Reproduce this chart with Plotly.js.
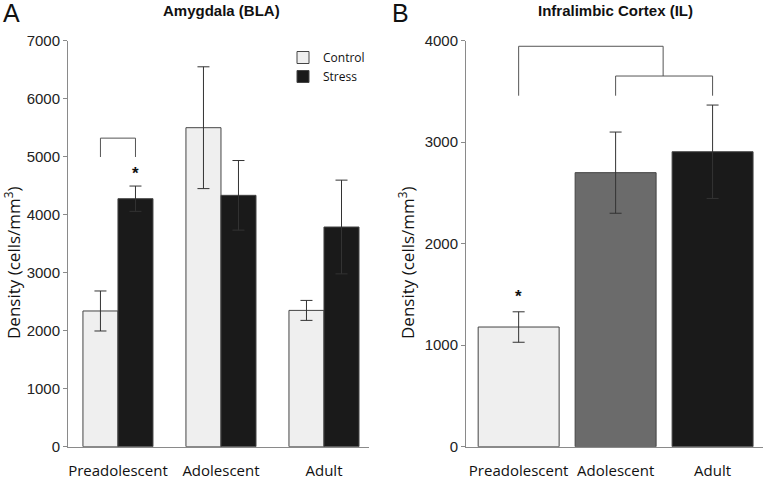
<!DOCTYPE html>
<html>
<head>
<meta charset="utf-8">
<script src="https://cdn.plot.ly/plotly-3.0.1.min.js"></script>
<style>
  html, body { margin: 0; padding: 0; background: #fff; }
  #chart { width: 766px; height: 479px; }
</style>
</head>
<body>
<div id="chart"></div>
<script>
// Panel A: Amygdala (BLA)
const agesA = ['Preadolescent', 'Adolescent', 'Adult'];
const controlA = [2340, 5500, 2350];
const controlErrA = [345, 1050, 172];
const stressA = [4276, 4334, 3788];
const stressErrA = [218, 600, 808];

// Panel B: Infralimbic Cortex (IL)
const agesB = ['Preadolescent', 'Adolescent', 'Adult'];
const densityB = [1179, 2700, 2906];
const densityErrB = [150, 400, 460];
const colorsB = ['#efefef', '#6b6b6b', '#1a1a1a'];

const tickFont = { family: 'Liberation Sans, Arial, sans-serif', size: 15, color: '#222' };
const catFont = { family: 'Open Sans, sans-serif', size: 15, color: '#111' };
const axisCol = '#8a8a8a';

const errStyle = arr => ({ type: 'data', array: arr, visible: true, color: '#333', thickness: 1, width: 6 });

const traces = [
    {
        x: agesA, y: controlA, type: 'bar', name: 'Control',
        marker: { color: '#efefef', line: { color: '#444', width: 1 } },
        error_y: errStyle(controlErrA),
        xaxis: 'x', yaxis: 'y'
    },
    {
        x: agesA, y: stressA, type: 'bar', name: 'Stress',
        marker: { color: '#1a1a1a', line: { color: '#444', width: 1 } },
        error_y: errStyle(stressErrA),
        xaxis: 'x', yaxis: 'y'
    },
    {
        x: agesB, y: densityB, type: 'bar', name: 'IL', showlegend: false,
        width: 0.835,
        marker: { color: colorsB, line: { color: '#444', width: 1 } },
        error_y: errStyle(densityErrB),
        xaxis: 'x2', yaxis: 'y2'
    }
];

const yDom = [32.3 / 479, 438.3 / 479];

function bracket(xr, yr, pts) {
    // pts: list of [x0, y0, x1, y1] line segments
    return pts.map(p => ({
        type: 'line', xref: xr, yref: yr,
        x0: p[0], y0: p[1], x1: p[2], y1: p[3],
        line: { color: '#555', width: 1 }
    }));
}

const shapes = [
    ...bracket('x', 'y', [
        [-0.17, 4995, -0.17, 5320],
        [-0.17, 5320, 0.17, 5320],
        [0.17, 5320, 0.17, 4995]
    ]),
    ...bracket('x2', 'y2', [
        [0, 3458, 0, 3945],
        [0, 3945, 1.49, 3945],
        [1.49, 3945, 1.49, 3652],
        [1, 3458, 1, 3652],
        [1, 3652, 2, 3652],
        [2, 3652, 2, 3458]
    ])
];

const yTitle = 'Density (cells/mm<sup>3</sup>)';
const sans = 'Liberation Sans, Arial, sans-serif';

const annotations = [
    { text: 'A', xref: 'paper', yref: 'paper', x: 1 / 766, y: 1 - 13 / 479, xanchor: 'left', yanchor: 'middle',
      showarrow: false, font: { family: sans, size: 25, color: '#111' } },
    { text: 'B', xref: 'paper', yref: 'paper', x: 390 / 766, y: 1 - 13 / 479, xanchor: 'left', yanchor: 'middle',
      showarrow: false, font: { family: sans, size: 25, color: '#111' } },
    { text: '<b>Amygdala (BLA)</b>', xref: 'paper', yref: 'paper', x: 221 / 766, y: 1 - 10 / 479,
      xanchor: 'center', yanchor: 'middle', showarrow: false,
      font: { family: sans, size: 15, color: '#111' } },
    { text: '<b>Infralimbic Cortex (IL)</b>', xref: 'paper', yref: 'paper', x: 615 / 766, y: 1 - 10 / 479,
      xanchor: 'center', yanchor: 'middle', showarrow: false,
      font: { family: sans, size: 15, color: '#111' } },
    { text: yTitle, xref: 'paper', yref: 'paper', x: 12 / 766, y: 1 - 263 / 479, textangle: -90,
      xanchor: 'center', yanchor: 'middle', showarrow: false,
      font: { family: 'Open Sans, sans-serif', size: 17, color: '#111' } },
    { text: yTitle, xref: 'paper', yref: 'paper', x: 406 / 766, y: 1 - 263 / 479, textangle: -90,
      xanchor: 'center', yanchor: 'middle', showarrow: false,
      font: { family: 'Open Sans, sans-serif', size: 17, color: '#111' } },
    { text: '<b>*</b>', xref: 'x', yref: 'y', x: 0.17, y: 4716, showarrow: false,
      font: { family: sans, size: 17, color: '#111' } },
    { text: '<b>*</b>', xref: 'x2', yref: 'y2', x: 0, y: 1478, showarrow: false,
      font: { family: sans, size: 17, color: '#111' } }
];

const xAxisBase = {
    type: 'category', showline: true, linecolor: axisCol, linewidth: 1,
    ticks: 'outside', ticklen: 10, tickcolor: 'rgba(0,0,0,0)',
    tickfont: catFont, showgrid: false, zeroline: false, fixedrange: true
};
const yAxisBase = {
    showline: true, linecolor: axisCol, linewidth: 1,
    ticks: 'outside', ticklen: 4, tickcolor: axisCol,
    tickfont: tickFont, showgrid: false, zeroline: false, fixedrange: true
};

const layout = {
    width: 766, height: 479,
    margin: { l: 0, r: 0, t: 0, b: 0 },
    paper_bgcolor: '#fff', plot_bgcolor: '#fff',
    barmode: 'group', bargap: 0.32, bargroupgap: 0,
    showlegend: true,
    legend: {
        x: 283 / 766, y: 1 - 43 / 479, xanchor: 'left', yanchor: 'top',
        bgcolor: 'rgba(0,0,0,0)', font: { family: 'Open Sans, sans-serif', size: 12, color: '#111' },
        tracegroupgap: 0
    },
    xaxis: { ...xAxisBase, domain: [68 / 766, 369 / 766], range: [-0.485, 2.437], anchor: 'y' },
    yaxis: { ...yAxisBase, domain: yDom, range: [0, 7000], dtick: 1000, anchor: 'x' },
    xaxis2: { ...xAxisBase, domain: [466 / 766, 763 / 766], range: [-0.543, 2.52], anchor: 'y2' },
    yaxis2: { ...yAxisBase, domain: yDom, range: [0, 4000], dtick: 1000, anchor: 'x2' },
    shapes: shapes,
    annotations: annotations
};

Plotly.newPlot('chart', traces, layout, { displayModeBar: false, staticPlot: true });
</script>
</body>
</html>
